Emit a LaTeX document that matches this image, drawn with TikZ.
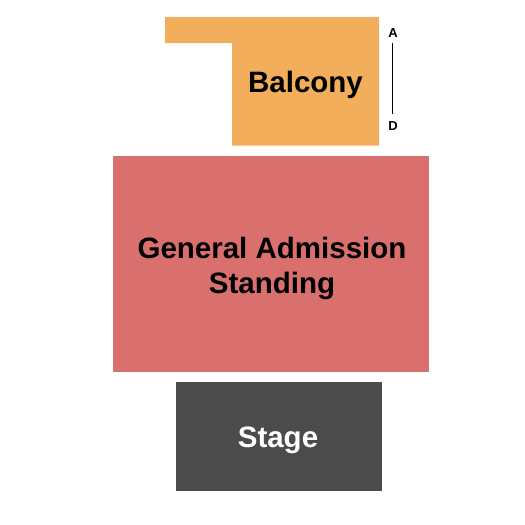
\documentclass[tikz,border=0pt]{standalone}
\usepackage{fontspec}
\setmainfont{Liberation Sans}
\definecolor{balc}{HTML}{F2AE5A}
\definecolor{ga}{HTML}{D9706E}
\definecolor{stg}{HTML}{4B4B4B}
\begin{document}
\begin{tikzpicture}[x=1pt,y=-1pt,
  lbl/.style={font=\bfseries\fontsize{29.5}{35}\selectfont, align=center, inner sep=0pt},
  small/.style={font=\bfseries\fontsize{13}{15}\selectfont, inner sep=0pt}]
\useasboundingbox (0,0) rectangle (525,525);
\fill[balc] (165,17) -- (379,17) -- (379,145.5) -- (232,145.5) -- (232,43) -- (165,43) -- cycle;
\node[lbl] (balcony) at (305.5,85) {Balcony};
\fill[ga] (113,156) rectangle (429,371.5);
\node[lbl] (gen) at (272,268) {General Admission\\Standing};
\fill[stg] (176,382) rectangle (381.5,490.5);
\node[lbl, text=white] (stage) at (278,440) {Stage};
\node[small] (a) at (393,33) {A};
\node[small] (d) at (393,126) {D};
\coordinate (a1) at (392,43);
\coordinate (d1) at (392,114);
\draw[line width=1pt] (a1) -- (d1);
\end{tikzpicture}
\end{document}
